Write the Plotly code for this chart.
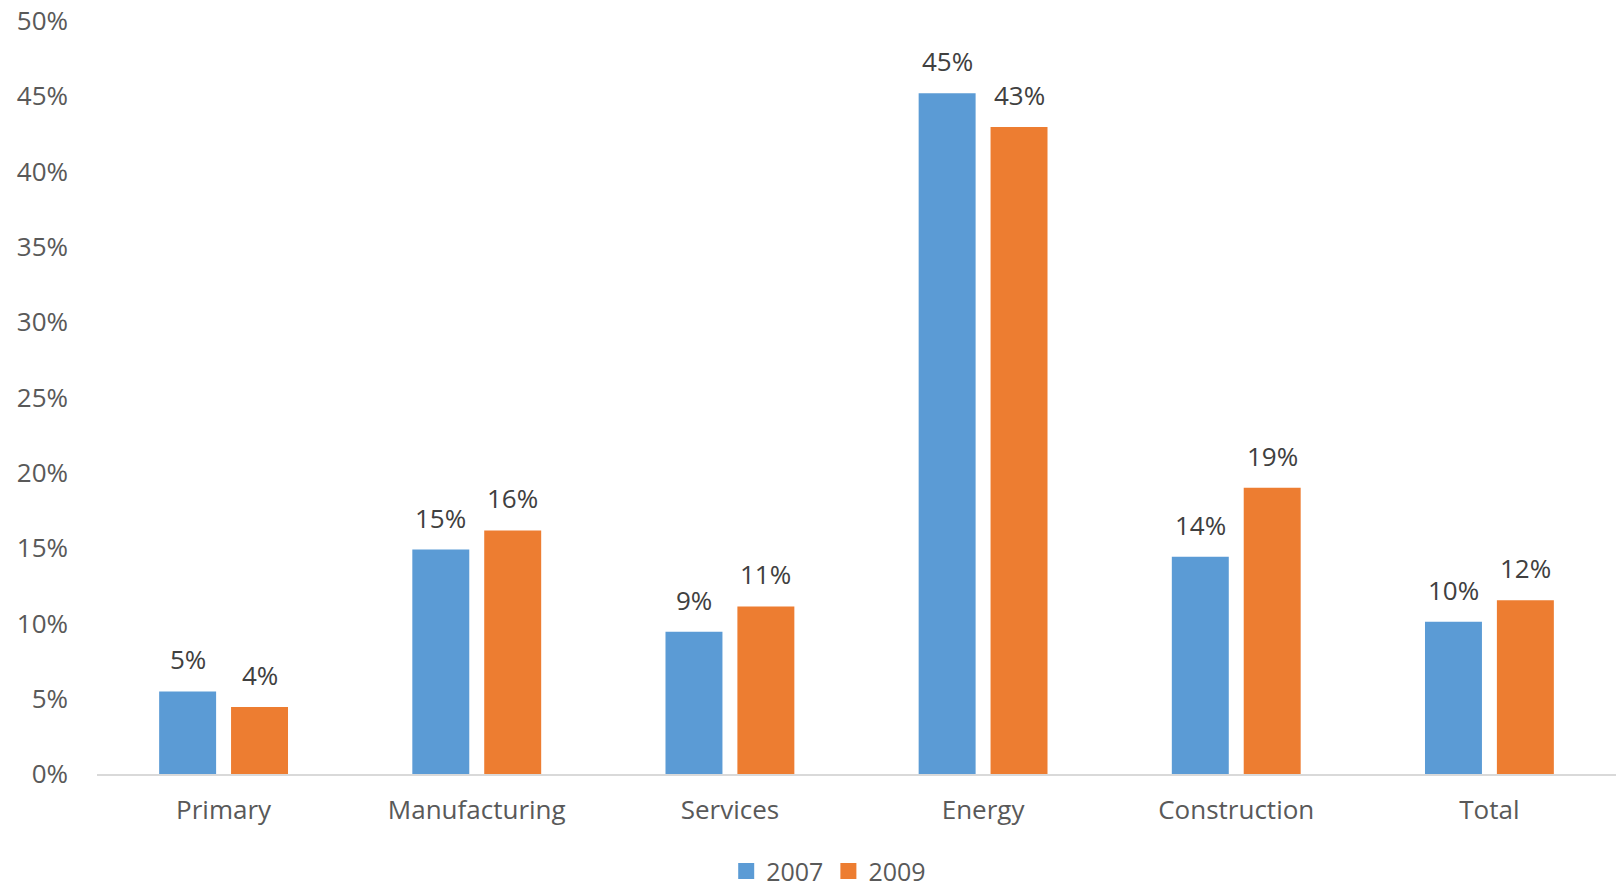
import plotly.graph_objects as go

# Share of firms by sector, 2007 vs 2009
sectors = ["Primary", "Manufacturing", "Services", "Energy", "Construction", "Total"]
share_2007 = [0.0548, 0.149, 0.0945, 0.452, 0.1443, 0.1011]
share_2009 = [0.0445, 0.1617, 0.1113, 0.4296, 0.1901, 0.1153]
y_ticks = [0, 0.05, 0.10, 0.15, 0.20, 0.25, 0.30, 0.35, 0.40, 0.45, 0.50]

BLUE = "#5B9BD5"
ORANGE = "#ED7D31"
FONT = "Open Sans"
AXIS_TEXT = "#595959"
LABEL_TEXT = "#404040"
FS = 26

bar_w = 0.225
gap = 0.059
idx = list(range(len(sectors)))

series = [
    ("2007", share_2007, BLUE, -(bar_w + gap / 2)),
    ("2009", share_2009, ORANGE, gap / 2),
]

fig = go.Figure()
annotations = []
for name, vals, color, off in series:
    fig.add_trace(go.Bar(
        x=idx, y=vals, width=bar_w, offset=off,
        marker=dict(color=color, line=dict(width=0)),
        showlegend=False, hoverinfo="skip",
    ))
    # legend entry drawn as a square marker
    fig.add_trace(go.Scatter(
        x=[None], y=[None], mode="markers", name=name,
        marker=dict(symbol="square", size=18, color=color),
    ))
    for i, v in zip(idx, vals):
        annotations.append(dict(
            x=i + off + bar_w / 2, y=v, xref="x", yref="y",
            text=f"{v:.0%}", showarrow=False,
            yanchor="bottom", yshift=12,
            font=dict(family=FONT, size=FS, color=LABEL_TEXT),
        ))

fig.update_layout(
    width=1624, height=888,
    margin=dict(l=97, r=8, t=21, b=114),
    paper_bgcolor="white", plot_bgcolor="white",
    font=dict(family=FONT, color=AXIS_TEXT, size=FS),
    annotations=annotations,
    legend=dict(
        orientation="h", x=0.4817, xanchor="center",
        yref="container", y=0.019, yanchor="middle",
        font=dict(family=FONT, size=FS - 1, color=AXIS_TEXT),
        itemwidth=30, traceorder="normal",
    ),
    xaxis=dict(
        range=[-0.5, 5.5], tickmode="array", tickvals=idx, ticktext=sectors,
        showgrid=False, zeroline=False, showline=True,
        linecolor="#D9D9D9", linewidth=2, ticks="",
        ticklabelstandoff=12, fixedrange=True, automargin=False,
        tickfont=dict(family=FONT, size=FS, color=AXIS_TEXT),
    ),
    yaxis=dict(
        range=[0, 0.5], tickmode="array", tickvals=y_ticks,
        tickformat=".0%", showgrid=False, zeroline=False, showline=False,
        ticks="", ticklabelstandoff=28, fixedrange=True, automargin=False,
        tickfont=dict(family=FONT, size=FS, color=AXIS_TEXT),
    ),
)

fig.write_html("out.html")
